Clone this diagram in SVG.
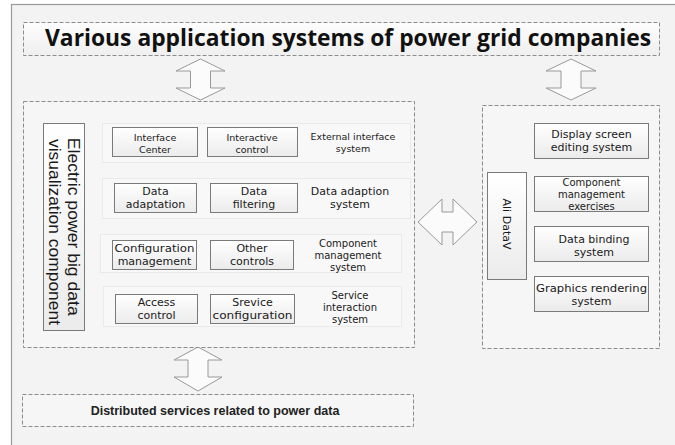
<svg xmlns="http://www.w3.org/2000/svg" width="675" height="445" viewBox="0 0 675 445">
<defs>
<linearGradient id="gBox" x1="0" y1="0" x2="0" y2="1">
<stop offset="0" stop-color="#ffffff"/>
<stop offset="1" stop-color="#ebebeb"/>
</linearGradient>
<linearGradient id="gTitle" x1="0" y1="0" x2="0" y2="1">
<stop offset="0" stop-color="#fdfdfd"/>
<stop offset="1" stop-color="#efefef"/>
</linearGradient>
<style>
.frame{fill:#f3f3f3;stroke:#9a9a9a;stroke-width:1.2}
.dash{fill:#f6f6f6;stroke:#8c8c8c;stroke-width:1;stroke-dasharray:4 2}
.row{fill:#f8f8f8;stroke:#dcdcdc;stroke-width:1;stroke-dasharray:1 1}
.box{fill:url(#gBox);stroke:#7a7a7a;stroke-width:1}
.arr{fill:#fbfbfb;stroke:#999;stroke-width:1}
.t{font-family:"DejaVu Sans","Liberation Sans",sans-serif;fill:#1a1a1a;text-anchor:middle;font-size:11px}
.r1{font-size:9.5px}
.s3{font-size:10px}
.title{font-family:"Open Sans","DejaVu Sans",sans-serif;font-weight:bold;font-size:23px;fill:#111;text-anchor:middle}
.vt{font-family:"Liberation Sans",Arial,sans-serif;font-size:16px;fill:#1a1a1a;text-anchor:middle}
.bt{font-family:"Liberation Sans",Arial,sans-serif;font-weight:bold;font-size:12.5px;fill:#222;text-anchor:middle}
</style>
</defs>
<rect x="0" y="0" width="675" height="445" fill="#ffffff"/>
<rect class="frame" x="11.5" y="4.5" width="700" height="500"/>

<g id="title">
<rect x="23.5" y="22.5" width="636" height="33" fill="url(#gTitle)" stroke="#8c8c8c" stroke-dasharray="4 2"/>
<text class="title" x="348" y="46" textLength="606" lengthAdjust="spacingAndGlyphs">Various application systems of power grid companies</text>
</g>

<g id="connectors">
<path class="arr" d="M200.5,59 L225,71 L210.5,71 L210.5,88 L225,88 L200.5,100 L176,88 L190.5,88 L190.5,71 L176,71 Z"/>
<path class="arr" d="M571,59 L596,71 L581,71 L581,88 L596,88 L571,100 L546,88 L561,88 L561,71 L546,71 Z"/>
<path class="arr" d="M198,347 L222,360 L208,360 L208,377 L222,377 L198,391 L174,377 L188,377 L188,360 L174,360 Z"/>
<path class="arr" d="M418,222 L442,199 L442,212 L453,212 L453,199 L477,222 L453,245 L453,232 L442,232 L442,245 Z"/>
</g>

<g id="left-panel">
<rect class="dash" x="23.5" y="101.5" width="391" height="246"/>
</g>

<g id="viz-component">
<rect class="box" x="43.5" y="123.5" width="41" height="207"/>
<text class="vt" transform="translate(63.5,226.5) rotate(90)">
<tspan x="2.5" y="-4" textLength="178" lengthAdjust="spacingAndGlyphs">Electric power big data</tspan>
<tspan x="5.5" y="14.5" textLength="186" lengthAdjust="spacingAndGlyphs">visualization component</tspan>
</text>
</g>

<g id="row-external">
<rect class="row" x="102.5" y="123.5" width="308" height="39"/>
<text class="t r1" x="353" y="140">External interface</text>
<text class="t r1" x="353" y="152">system</text>
</g>
<g id="interface-center">
<rect class="box" x="112.5" y="127.5" width="85" height="29"/>
<text class="t r1" x="155" y="140.5">Interface</text>
<text class="t r1" x="155" y="152.5">Center</text>
</g>
<g id="interactive-control">
<rect class="box" x="207.5" y="127.5" width="90" height="29"/>
<text class="t r1" x="252" y="140.5">Interactive</text>
<text class="t r1" x="252" y="152.5">control</text>
</g>

<g id="row-data-adaption">
<rect class="row" x="102.5" y="178.5" width="308" height="40"/>
<text class="t" x="350" y="195">Data adaption</text>
<text class="t" x="350" y="208">system</text>
</g>
<g id="data-adaptation">
<rect class="box" x="114.5" y="183.5" width="82" height="29"/>
<text class="t" x="155.5" y="195">Data</text>
<text class="t" x="155.5" y="208">adaptation</text>
</g>
<g id="data-filtering">
<rect class="box" x="210.5" y="183.5" width="87" height="29"/>
<text class="t" x="254" y="195">Data</text>
<text class="t" x="254" y="208">filtering</text>
</g>

<g id="row-component">
<rect class="row" x="100.5" y="234.5" width="301" height="38"/>
<text class="t s3" x="348" y="247">Component</text>
<text class="t s3" x="348" y="259">management</text>
<text class="t s3" x="348" y="271">system</text>
</g>
<g id="configuration-management">
<rect class="box" x="112.5" y="240.5" width="84" height="29"/>
<text class="t" x="154.5" y="252" textLength="80" lengthAdjust="spacingAndGlyphs">Configuration</text>
<text class="t" x="154.5" y="265">management</text>
</g>
<g id="other-controls">
<rect class="box" x="210.5" y="240.5" width="83" height="29"/>
<text class="t" x="252" y="252">Other</text>
<text class="t" x="252" y="265">controls</text>
</g>

<g id="row-service">
<rect class="row" x="103.5" y="286.5" width="298" height="40"/>
<text class="t s3" x="350" y="299">Service</text>
<text class="t s3" x="350" y="311">interaction</text>
<text class="t s3" x="350" y="323">system</text>
</g>
<g id="access-control">
<rect class="box" x="115.5" y="294.5" width="82" height="29"/>
<text class="t" x="156.5" y="306">Access</text>
<text class="t" x="156.5" y="319">control</text>
</g>
<g id="service-configuration">
<rect class="box" x="210.5" y="294.5" width="84" height="29"/>
<text class="t" x="252.5" y="306">Srevice</text>
<text class="t" x="252.5" y="319" textLength="80" lengthAdjust="spacingAndGlyphs">configuration</text>
</g>

<g id="right-panel">
<rect class="dash" x="482.5" y="105.5" width="177" height="243"/>
</g>
<g id="ali-datav">
<rect class="box" x="487.5" y="172.5" width="39" height="107"/>
<text class="t" font-size="12" transform="translate(507,224) rotate(90)" x="0" y="4.5">Ali DataV</text>
</g>
<g id="display-screen">
<rect class="box" x="534.5" y="123.5" width="114" height="35"/>
<text class="t" x="591.5" y="138">Display screen</text>
<text class="t" x="591.5" y="151">editing system</text>
</g>
<g id="component-exercises">
<rect class="box" x="534.5" y="176.5" width="114" height="35"/>
<text class="t s3" x="591.5" y="186">Component</text>
<text class="t s3" x="591.5" y="198">management</text>
<text class="t s3" x="591.5" y="210">exercises</text>
</g>
<g id="data-binding">
<rect class="box" x="534.5" y="226.5" width="114" height="35"/>
<text class="t" x="594" y="243">Data binding</text>
<text class="t" x="594" y="256">system</text>
</g>
<g id="graphics-rendering">
<rect class="box" x="534.5" y="276.5" width="114" height="35"/>
<text class="t" x="591.5" y="292" textLength="111" lengthAdjust="spacingAndGlyphs">Graphics rendering</text>
<text class="t" x="591.5" y="305">system</text>
</g>

<g id="distributed-services">
<rect class="dash" x="22.5" y="394.5" width="391" height="32"/>
<text class="bt" x="215" y="415">Distributed services related to power data</text>
</g>
</svg>
